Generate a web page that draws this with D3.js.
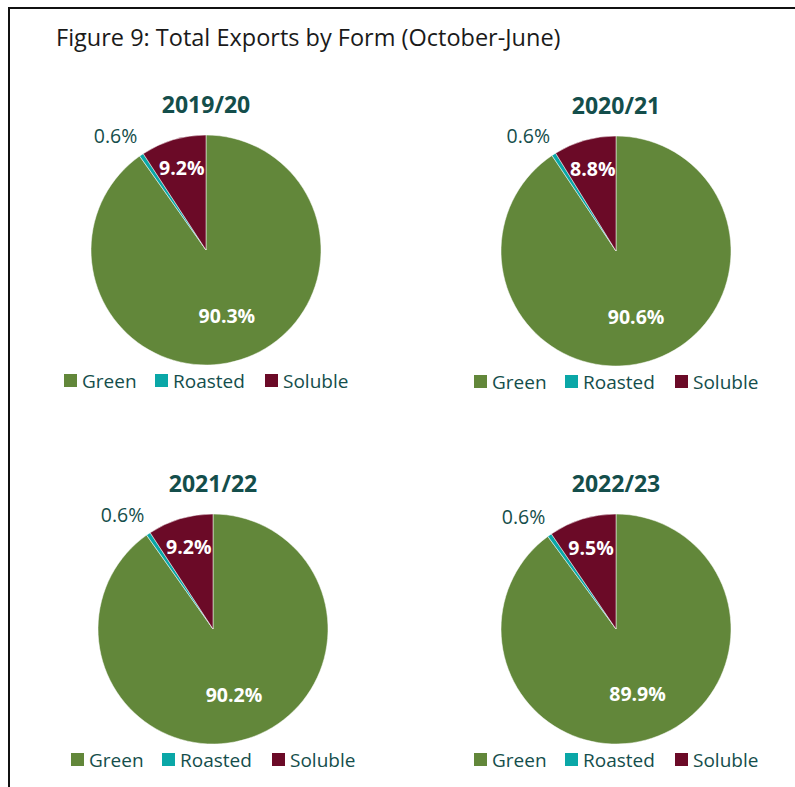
<!DOCTYPE html>
<html>
<head>
<meta charset="utf-8">
<script src="https://cdn.jsdelivr.net/npm/d3@7"></script>
<style>
  body { margin: 0; background: #fff; }
  text { font-family: "Open Sans", sans-serif; }
</style>
</head>
<body>
<svg class="chart"></svg>
<script>
var width = 795;
var height = 787;

// data
var seasons = ["2019/20", "2020/21", "2021/22", "2022/23"];
var forms = ["Green", "Roasted", "Soluble"];
var formColors = ["#62873a", "#0aa7a7", "#6b0a27"];
var shares1920 = [90.3, 0.6, 9.2];
var shares2021 = [90.6, 0.6, 8.8];
var shares2122 = [90.2, 0.6, 9.2];
var shares2223 = [89.9, 0.6, 9.5];
var allShares = [shares1920, shares2021, shares2122, shares2223];

var textCol = "#144e4b";
var radius = 115;
// panel centres
var centres = [[206, 250], [616, 251], [213, 629], [616, 629]];

var chart = d3.select(".chart")
    .attr("width", width)
    .attr("height", height);

// frame (left + top lines only visible)
chart.append("path")
    .attr("d", "M9,787 L9,8 L795,8")
    .attr("fill", "none")
    .attr("stroke", "#111")
    .attr("stroke-width", 2);

chart.append("text")
    .attr("x", 56)
    .attr("y", 46)
    .attr("font-size", 23.5)
    .attr("fill", "#1a1a1a")
    .text("Figure 9: Total Exports by Form (October-June)");

var color = d3.scaleOrdinal().domain(forms).range(formColors);

var pie = d3.pie()
    .sort(null)
    .value(function(d) { return d.v; });

var arc = d3.arc().innerRadius(0).outerRadius(radius);
var greenArc = d3.arc().innerRadius(radius * 0.6).outerRadius(radius * 0.6);
var inArc = d3.arc().innerRadius(radius * 0.74).outerRadius(radius * 0.74);
var outArc = d3.arc().innerRadius(radius * 1.14).outerRadius(radius * 1.14);

seasons.forEach(function(season, i) {
    var c = centres[i];
    var g = chart.append("g")
        .attr("transform", "translate(" + c[0] + "," + c[1] + ")");

    var rows = forms.map(function(f, j) { return { k: f, v: allShares[i][j] }; });
    var arcs = pie(rows);

    g.append("text")
        .attr("x", 0)
        .attr("y", -137)
        .attr("text-anchor", "middle")
        .attr("font-size", 23)
        .attr("font-weight", "bold")
        .attr("fill", textCol)
        .text(season);

    g.selectAll("path.slice")
        .data(arcs)
        .enter()
        .append("path")
        .attr("class", "slice")
        .attr("d", arc)
        .attr("fill", function(d) { return color(d.data.k); })
        .attr("stroke", "#fff")
        .attr("stroke-width", 0.5);

    arcs.forEach(function(d) {
        var pos, anchor = "middle", white = true, dx = 0, dy = 0;
        if (d.data.k === "Green") pos = greenArc.centroid(d);
        else if (d.data.k === "Soluble") pos = inArc.centroid(d);
        else { pos = outArc.centroid(d); white = false; anchor = "end"; dx = 5; dy = -5; }
        g.append("text")
            .attr("x", pos[0] + dx)
            .attr("y", pos[1] + dy)
            .attr("dy", "0.35em")
            .attr("text-anchor", anchor)
            .attr("font-size", 19.5)
            .attr("font-weight", white ? "bold" : "normal")
            .attr("fill", white ? "#fff" : textCol)
            .text(d.data.v.toFixed(1) + "%");
    });

    // legend
    var lg = g.append("g").attr("transform", "translate(" + (-142) + "," + (radius + 9) + ")");
    var offs = [0, 91, 201];
    forms.forEach(function(f, j) {
        lg.append("rect")
            .attr("x", offs[j])
            .attr("y", 0)
            .attr("width", 13)
            .attr("height", 13)
            .attr("fill", color(f));
        lg.append("text")
            .attr("x", offs[j] + 18)
            .attr("y", 7)
            .attr("dy", "0.35em")
            .attr("font-size", 19)
            .attr("fill", textCol)
            .text(f);
    });
});
</script>
</body>
</html>
